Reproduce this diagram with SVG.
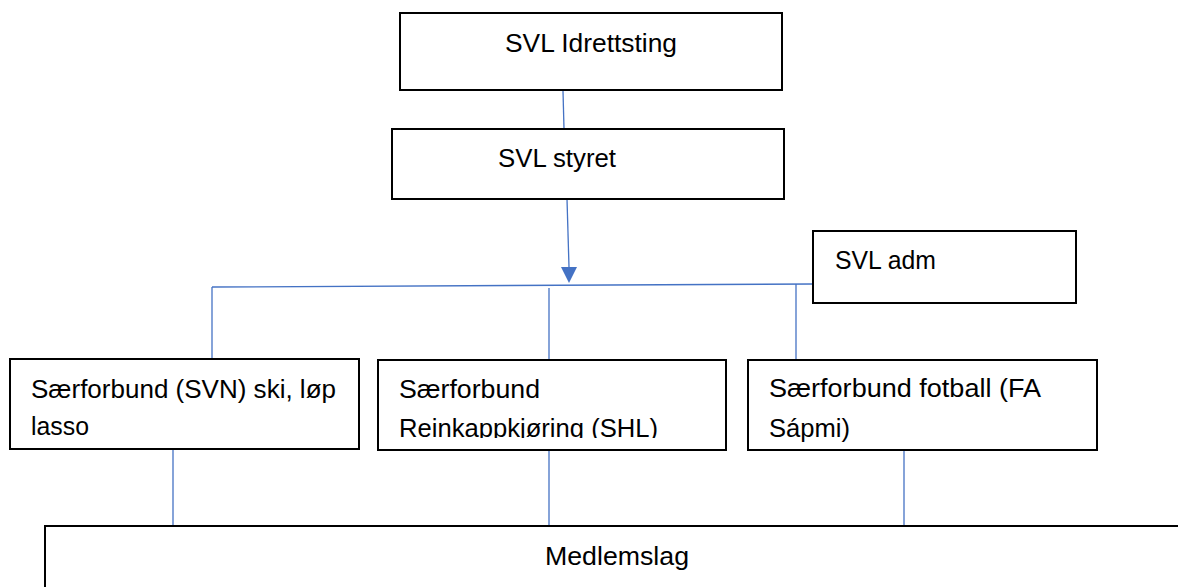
<svg xmlns="http://www.w3.org/2000/svg" width="1178" height="587" viewBox="0 0 1178 587">
<style>
.box{fill:#fff;stroke:#000;stroke-width:2}
.t{font-family:"Liberation Sans",Arial,sans-serif;font-size:25px;fill:#000}
.c{stroke:#4472C4;stroke-width:1.3;fill:none}
.ah{fill:#4472C4}
</style>
<defs>
<clipPath id="clipB"><rect x="378" y="360" width="348" height="78"/></clipPath>
</defs>
<rect width="1178" height="587" fill="#fff"/>
<g id="connectors">
<line class="c" x1="563" y1="91" x2="564" y2="129"/>
<path d="M567,199 L569,267" class="c"/>
<path class="ah" d="M561,267 L577,267 L569,283 Z"/>
<line class="c" x1="212" y1="287" x2="813" y2="284"/>
<line class="c" x1="212" y1="287" x2="212" y2="359"/>
<line class="c" x1="549" y1="288" x2="549" y2="360"/>
<line class="c" x1="796" y1="284" x2="796" y2="360"/>
<line class="c" x1="173" y1="449" x2="173" y2="526"/>
<line class="c" x1="549" y1="450" x2="549" y2="526"/>
<line class="c" x1="904" y1="450" x2="904" y2="526"/>
</g>
<g id="idrettsting">
<rect class="box" x="400" y="13" width="382" height="77"/>
<text class="t" x="505" y="52" textLength="172" lengthAdjust="spacingAndGlyphs">SVL Idrettsting</text>
</g>
<g id="styret">
<rect class="box" x="392" y="129" width="392" height="70"/>
<text class="t" x="498" y="167" textLength="118" lengthAdjust="spacingAndGlyphs">SVL styret</text>
</g>
<g id="adm">
<rect class="box" x="813" y="231" width="263" height="72"/>
<text class="t" x="835" y="269" textLength="101" lengthAdjust="spacingAndGlyphs">SVL adm</text>
</g>
<g id="svn">
<rect class="box" x="10" y="359" width="349" height="90"/>
<text class="t" x="31" y="398" textLength="305" lengthAdjust="spacingAndGlyphs">Særforbund (SVN) ski, løp</text>
<text class="t" x="31" y="435" textLength="58" lengthAdjust="spacingAndGlyphs">lasso</text>
</g>
<g id="shl">
<rect class="box" x="378" y="360" width="348" height="90"/>
<text class="t" x="399" y="398" textLength="141" lengthAdjust="spacingAndGlyphs">Særforbund</text>
<text class="t" x="399" y="437" textLength="259" lengthAdjust="spacingAndGlyphs" clip-path="url(#clipB)">Reinkappkjøring (SHL)</text>
</g>
<g id="fa">
<rect class="box" x="748" y="360" width="349" height="90"/>
<text class="t" x="769" y="397" textLength="272" lengthAdjust="spacingAndGlyphs">Særforbund fotball (FA</text>
<text class="t" x="769" y="437" textLength="81" lengthAdjust="spacingAndGlyphs">Sápmi)</text>
</g>
<g id="medlemslag">
<rect class="box" x="45" y="526" width="1150" height="80"/>
<text class="t" x="545" y="565" textLength="144" lengthAdjust="spacingAndGlyphs">Medlemslag</text>
</g>
</svg>
